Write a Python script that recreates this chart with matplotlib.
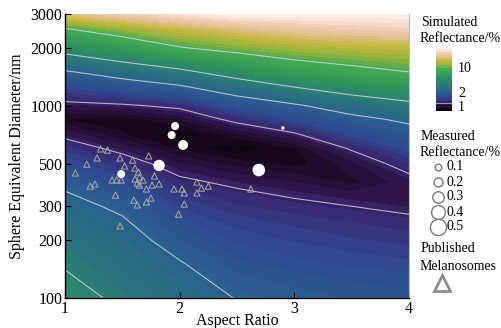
import numpy as np
import matplotlib
matplotlib.use('Agg')
import matplotlib.pyplot as plt
from matplotlib import colors

plt.rcParams['font.family'] = ['Liberation Serif', 'DejaVu Serif']
plt.rcParams['font.size'] = 11.5

# Simulated reflectance (%), rows = diameter, cols = aspect ratio
aspect = [1.0, 1.5, 2.0, 2.5, 3.0, 3.5, 4.0]
diameter = [100, 150, 200, 300, 400, 500, 600, 700, 850, 1000, 1250, 1500, 2000, 2500, 3000]
reflectance = [
    [7.00, 5.50, 4.70, 3.95, 3.70, 3.50, 3.40],
    [5.75, 4.90, 4.08, 3.35, 3.12, 2.95, 2.83],
    [5.19, 4.48, 3.53, 2.93, 2.72, 2.55, 2.42],
    [4.40, 3.77, 2.71, 2.33, 2.14, 2.00, 1.84],
    [3.73, 2.95, 2.13, 1.87, 1.67, 1.44, 1.79],
    [2.98, 2.32, 1.68, 1.40, 1.22, 1.60, 2.27],
    [2.38, 1.80, 1.25, 1.02, 1.30, 2.07, 2.90],
    [1.86, 1.35, 1.00, 1.40, 1.85, 2.77, 3.44],
    [1.32, 1.20, 1.50, 2.19, 2.83, 3.64, 4.25],
    [1.79, 1.90, 2.15, 3.16, 3.81, 4.74, 5.49],
    [2.82, 3.26, 3.81, 4.85, 6.00, 7.03, 7.85],
    [3.87, 4.67, 5.55, 6.99, 8.43, 9.29, 10.0],
    [6.83, 8.17, 9.85, 10.9, 11.8, 12.3, 12.5],
    [9.82, 11.39, 12.8, 14.0, 15.0, 15.5, 16.0],
    [14.0, 15.5, 17.0, 18.0, 19.0, 20.0, 21.0],
]
line_levels = [2, 4, 6, 10]

# Measured samples
meas_ar = [1.49, 1.82, 1.96, 1.93, 2.03, 2.69, 2.90]
meas_d = [441, 489, 784, 704, 625, 463, 766]
meas_r = [0.2, 0.4, 0.2, 0.2, 0.3, 0.5, 0.1]

# Published melanosomes
pub_ar = [1.09, 1.19, 1.28, 1.31, 1.37, 1.22, 1.26, 1.44, 1.48, 1.48, 1.52, 1.41,
          1.45, 1.49, 1.59, 1.61, 1.64, 1.65, 1.68, 1.61, 1.63, 1.65, 1.71, 1.76,
          1.73, 1.78, 1.82, 1.60, 1.63, 1.71, 1.75, 1.95, 2.02, 2.04, 2.04, 1.99,
          2.15, 2.15, 2.19, 2.25, 2.62]
pub_d = [447, 497, 535, 596, 588, 382, 392, 343, 237, 535, 486, 411,
         411, 411, 522, 474, 452, 426, 411, 416, 396, 387, 369, 387,
         548, 431, 392, 323, 305, 316, 331, 369, 369, 352, 308, 273,
         401, 352, 373, 382, 369]

legend_vals = [0.1, 0.2, 0.3, 0.4, 0.5]

cmap = colors.LinearSegmentedColormap.from_list('refl', [
    (0.00, '#0e030c'), (0.05, '#1e0a26'), (0.10, '#2e1448'), (0.14, '#3a2a72'),
    (0.21, '#304790'), (0.30, '#2a6090'), (0.45, '#2a8072'), (0.55, '#30955a'),
    (0.67, '#46aa52'), (0.74, '#9cb43c'), (0.80, '#c8b842'), (0.86, '#e0c090'),
    (0.92, '#f2cdb8'), (1.00, '#fdf3ef')])
VMAX = 18
norm = colors.FuncNorm((np.sqrt, np.square), vmin=1, vmax=VMAX)

W, H = 502, 328
fig = plt.figure(figsize=(W / 100, H / 100), dpi=100)
ax = fig.add_axes([65 / W, 1 - 298 / H, 344 / W, 284 / H])

R = np.array(reflectance)
fill_levels = (np.linspace(1, np.sqrt(VMAX), 45)) ** 2
cf = ax.contourf(aspect, diameter, np.clip(R, 1.001, VMAX - 0.01),
                 levels=fill_levels, cmap=cmap, norm=norm)
ax.contour(aspect, diameter, R, levels=line_levels, colors='#d8d8e6',
           linewidths=0.8, alpha=0.8)

ax.scatter(pub_ar, pub_d, marker='^', facecolors='none', edgecolors='#a8a8a8',
           s=20, linewidths=0.7, zorder=3)
rad = [1.7 + 4.6 * np.sqrt((v - 0.1) / 0.4) for v in meas_r]
ax.scatter(meas_ar, meas_d, s=[(2 * r * 0.72) ** 2 for r in rad], c='white',
           edgecolors='none', zorder=4)

ax.set_yscale('log')
ax.set_xlim(1, 4)
ax.set_ylim(100, 3000)
ax.set_xticks([1, 2, 3, 4])
ax.set_xticklabels(['1', '2', '3', '4'])
yt = [100, 200, 300, 500, 1000, 2000, 3000]
ax.set_yticks(yt)
ax.set_yticklabels([str(v) for v in yt])
ax.yaxis.set_minor_locator(matplotlib.ticker.NullLocator())
ax.tick_params(direction='in', length=4, width=0.8, pad=2)
ax.spines['top'].set_visible(False)
ax.spines['right'].set_color('#b4bad2')
ax.spines['left'].set_linewidth(1)
ax.spines['bottom'].set_linewidth(1)
ax.set_xlabel('Aspect Ratio', labelpad=-2.5)
ax.set_ylabel('Sphere Equivalent Diameter/nm', labelpad=4)

# colour bar
cax = fig.add_axes([436 / W, 1 - 111 / H, 16 / W, 63 / H])
cb = fig.colorbar(cf, cax=cax, ticks=[])
cb.outline.set_visible(False)
cb.ax.axhline(2, color='#8aa0c8', lw=0.8)

# legend area in pixel coordinates
lax = fig.add_axes([0, 0, 1, 1])
lax.set_xlim(0, W)
lax.set_ylim(H, 0)
lax.axis('off')
tk = dict(fontsize=10, va='center', ha='left')
lax.text(458, 69, '10', **tk)
lax.text(458, 100, '2', va='bottom', ha='left', fontsize=10)
lax.text(458, 101, '1', va='top', ha='left', fontsize=10)
lax.text(421, 23, 'Simulated', **tk)
lax.text(420, 38, 'Reflectance/%', **tk)
lax.text(421, 137, 'Measured', **tk)
lax.text(420, 152, 'Reflectance/%', **tk)
for i, v in enumerate(legend_vals):
    yy = 167 + 15 * i
    lax.scatter([438], [yy], s=(2 * (3.3 + 1.2 * i) * 0.72) ** 2, facecolors='white',
                edgecolors='#7a7a7a', linewidths=1.0)
    lax.text(447, yy, str(v), **tk)
lax.text(421, 249, 'Published', **tk)
lax.text(420, 266, 'Melanosomes', **tk)
lax.plot([442], [283], marker='^', markersize=11, markerfacecolor='white',
         markeredgecolor='#8c8c8c', markeredgewidth=2)

fig.savefig('out.png', dpi=100)
